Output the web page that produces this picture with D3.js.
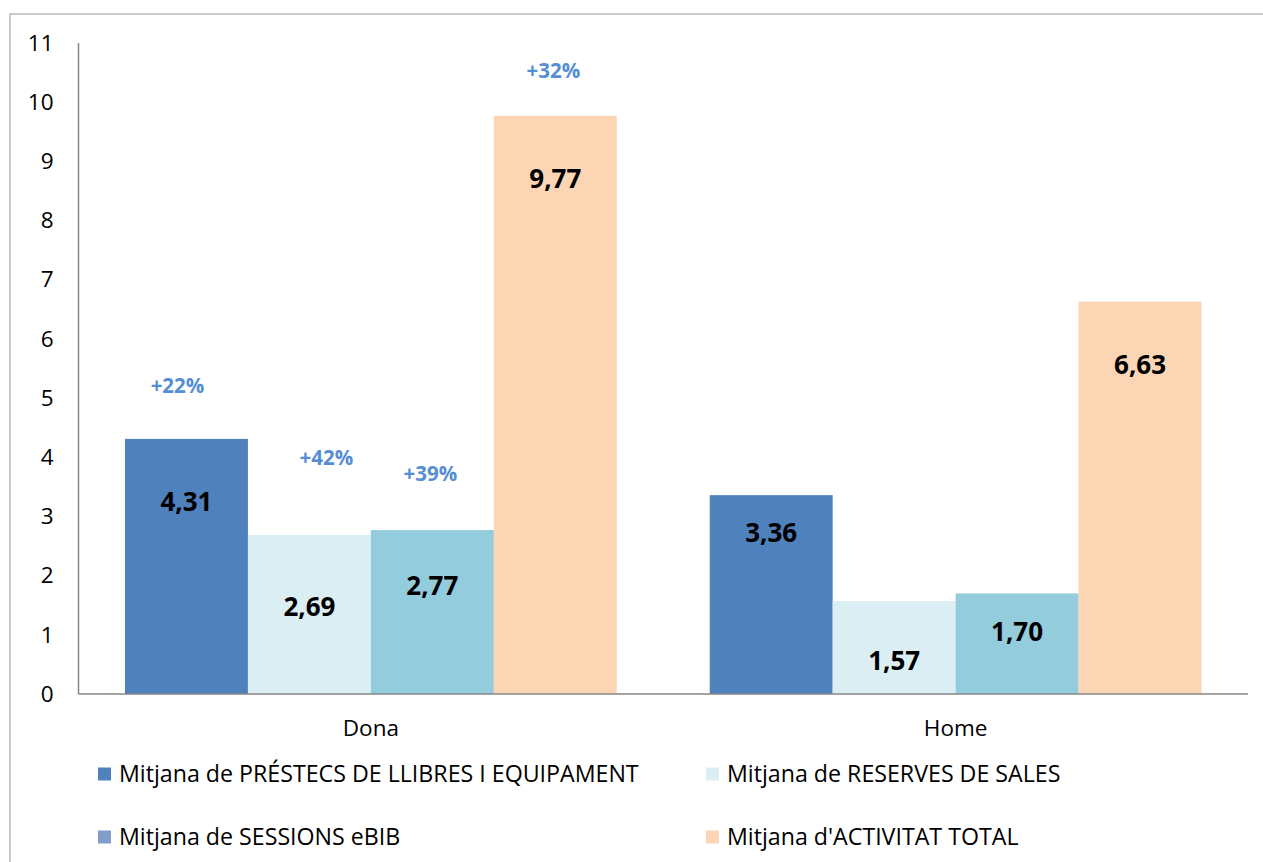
<!DOCTYPE html>
<html>
<head>
<meta charset="utf-8">
<script src="https://cdn.jsdelivr.net/npm/d3@7"></script>
<style>
  html, body { margin: 0; padding: 0; background: #fff; }
  svg { display: block; font-family: 'Open Sans', sans-serif; }
</style>
</head>
<body>
<svg id="chart" width="1263" height="862"></svg>
<script>
// ---- data ----
const categories = ["Dona", "Home"];
const seriesNames = [
  "Mitjana de PRÉSTECS DE LLIBRES I EQUIPAMENT",
  "Mitjana de RESERVES DE SALES",
  "Mitjana de SESSIONS eBIB",
  "Mitjana d'ACTIVITAT TOTAL"
];
const prestecs = [4.31, 3.36];
const reserves = [2.69, 1.57];
const sessions = [2.77, 1.70];
const total    = [9.77, 6.63];
const valueLabels = [["4,31", "3,36"], ["2,69", "1,57"], ["2,77", "1,70"], ["9,77", "6,63"]];
const changeLabels = [["+22%", null], ["+42%", null], ["+39%", null], ["+32%", null]];
const yTicks = [0, 1, 2, 3, 4, 5, 6, 7, 8, 9, 10, 11];

// ---- styling / layout ----
const seriesValues = [prestecs, reserves, sessions, total];
const barColors = ["#4F81BD", "#DBEEF4", "#93CDDD", "#FCD5B5"];
const legendColors = ["#4F81BD", "#DBEEF4", "#809EC9", "#FCD5B5"];
// label offsets (pixels below bar top) per series, per category
const valueLabelDy = [[62, 37], [71, 59], [55, 38], [62, 62]];
// change-label offsets (pixels above bar top, x shift)
const changeDy = [54, 78, 57, 46];
const changeDx = [-9, 17, -2, -2];

const svg = d3.select("#chart");

// outer chart border
svg.append("rect")
  .attr("x", 10).attr("y", 14)
  .attr("width", 1300).attr("height", 900)
  .attr("fill", "#fff")
  .attr("stroke", "#BFBFBF")
  .attr("stroke-width", 1.6);

const plotLeft = 78.5, plotRight = 1248, plotTop = 43, plotBottom = 694;

const y = d3.scaleLinear().domain([0, 11]).range([plotBottom, plotTop]);
const x0 = d3.scaleBand().domain(categories).range([plotLeft, plotRight])
  .paddingInner(0.159).paddingOuter(0.0795);
const x1 = d3.scaleBand().domain(d3.range(seriesNames.length)).range([0, x0.bandwidth()]);

// bars
seriesValues.forEach((vals, si) => {
  const g = svg.append("g");
  g.selectAll("rect").data(vals).join("rect")
    .attr("x", (d, ci) => x0(categories[ci]) + x1(si))
    .attr("y", d => y(d))
    .attr("width", x1.bandwidth())
    .attr("height", d => y(0) - y(d))
    .attr("fill", barColors[si]);

  g.selectAll("text.val").data(vals).join("text")
    .attr("class", "val")
    .attr("x", (d, ci) => x0(categories[ci]) + x1(si) + x1.bandwidth() / 2)
    .attr("y", (d, ci) => y(d) + valueLabelDy[si][ci])
    .attr("text-anchor", "middle")
    .attr("dominant-baseline", "central")
    .attr("font-size", 26)
    .attr("font-weight", "bold")
    .attr("fill", "#000")
    .text((d, ci) => valueLabels[si][ci]);

  g.selectAll("text.chg").data(vals.map((d, ci) => ({ d, ci })).filter(o => changeLabels[si][o.ci]))
    .join("text")
    .attr("class", "chg")
    .attr("x", o => x0(categories[o.ci]) + x1(si) + x1.bandwidth() / 2 + changeDx[si])
    .attr("y", o => y(o.d) - changeDy[si])
    .attr("text-anchor", "middle")
    .attr("dominant-baseline", "central")
    .attr("font-size", 20.5)
    .attr("font-weight", "bold")
    .attr("fill", "#558ED5")
    .text(o => changeLabels[si][o.ci]);
});

// y axis
const yAxis = d3.axisLeft(y).tickValues(yTicks).tickSize(0).tickPadding(25);
const gy = svg.append("g").attr("transform", `translate(${plotLeft},0)`).call(yAxis);
gy.select(".domain").attr("stroke", "#868686").attr("stroke-width", 1.5)
  .attr("d", `M0,${plotTop}V${plotBottom}`);
gy.selectAll("text").attr("font-size", 22.5).attr("fill", "#000")
  .attr("font-family", "'Open Sans', sans-serif");

// x axis
const xAxis = d3.axisBottom(x0).tickSize(0).tickPadding(26);
const gx = svg.append("g").attr("transform", `translate(0,${plotBottom})`).call(xAxis);
gx.select(".domain").attr("stroke", "#868686").attr("stroke-width", 1.5)
  .attr("d", `M${plotLeft},0H${plotRight}`);
gx.selectAll("text").attr("font-size", 22.5).attr("fill", "#000")
  .attr("font-family", "'Open Sans', sans-serif");

// legend
const legendPos = [[98, 774], [706, 774], [98, 837], [706, 837]];
const lg = svg.append("g");
seriesNames.forEach((name, i) => {
  const [lx, ly] = legendPos[i];
  lg.append("rect").attr("x", lx).attr("y", ly - 6.5).attr("width", 13).attr("height", 13)
    .attr("fill", legendColors[i]);
  lg.append("text").attr("x", lx + 21).attr("y", ly + 7.5)
    .attr("font-size", 23.2).attr("fill", "#000")
    .text(name);
});
</script>
</body>
</html>
